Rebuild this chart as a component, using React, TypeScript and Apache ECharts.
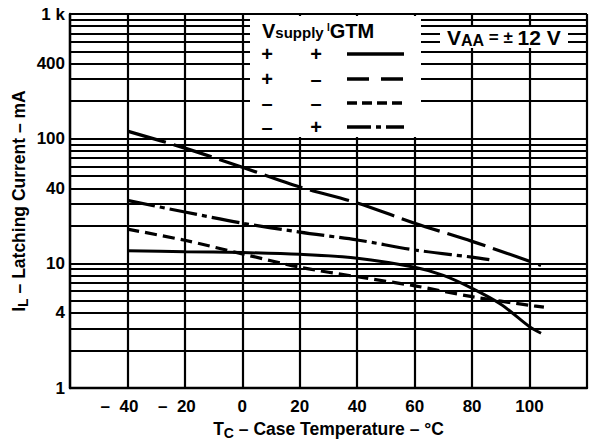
import React, { useEffect, useRef } from 'react';
import * as echarts from 'echarts';

// Case temperature (°C) vs latching current (mA)
const curvePlusPlus: [number, number][] = [[-40, 12.6], [-20, 12.4], [0, 12.2], [20, 11.8], [40, 11.0], [60, 9.3], [70, 8.0], [80, 6.3], [90, 4.7], [100, 3.1], [104, 2.75]];
const curvePlusMinus: [number, number][] = [[-40, 115], [-20, 84], [0, 59], [20, 41], [40, 30.5], [60, 21], [80, 15], [100, 10.4], [104, 9.6]];
const curveMinusMinus: [number, number][] = [[-40, 18.8], [-20, 15.3], [0, 11.9], [20, 9.3], [40, 7.8], [60, 6.6], [80, 5.4], [100, 4.6], [105, 4.45]];
const curveMinusPlus: [number, number][] = [[-40, 32], [-20, 25.8], [0, 21], [20, 17.8], [40, 15.4], [60, 12.8], [80, 11.2], [86, 10.7]];

const yGridValues = [1, 2, 3, 4, 5, 6, 7, 8, 9, 10, 20, 30, 40, 50, 60, 70, 80, 90, 100, 200, 300, 400, 500, 600, 700, 800, 900, 1000];
const yTickValues = [1, 4, 10, 40, 100, 400, 1000];
const yTickLabels = ['1', '4', '10', '40', '100', '400', '1 k'];
const xTickValues = [-40, -20, 0, 20, 40, 60, 80, 100];

const legendSupply = ['+', '+', '–', '–'];
const legendIgtm = ['+', '–', '–', '+'];

const FONT = '"Liberation Sans", Arial, Helvetica, sans-serif';

export default function App() {
  const ref = useRef<HTMLDivElement>(null);
  useEffect(() => {
    if (!ref.current) return;
    const chart = echarts.init(ref.current, null, { renderer: 'svg' });

    const lineW = 2.2;
    const markData = yGridValues.map((v) => {
      const idx = yTickValues.indexOf(v);
      return {
        yAxis: v,
        label: idx >= 0
          ? { show: true, position: 'start', distance: 5, formatter: yTickLabels[idx], color: '#000', fontSize: 17, fontWeight: 'bold', fontFamily: FONT }
          : { show: false },
      };
    });

    const base = {
      type: 'line',
      showSymbol: false,
      symbol: 'none',
      smooth: 0.3,
      silent: true,
      z: 5,
    };

    const rowY = [54, 79, 103, 127];
    const dashes: any[] = [null, [22, 12], [10, 5], [24, 5, 5, 5]];

    const graphic: any[] = [
      { type: 'rect', z: 100, shape: { x: 250, y: 16, width: 171, height: 121 }, style: { fill: '#fff' } },
      {
        type: 'text', z: 101, x: 262, y: 31,
        style: {
          text: '{v|V}{s|supply} {i|I}{v|GTM}',
          align: 'left',
          verticalAlign: 'middle',
          fill: '#000',
          rich: {
            v: { fontSize: 20, fontWeight: 'bold', fontFamily: FONT, lineHeight: 18, fill: '#000' },
            s: { fontSize: 15, fontWeight: 'bold', fontFamily: FONT, lineHeight: 12, verticalAlign: 'bottom', fill: '#000' },
            i: { fontSize: 10, fontWeight: 'bold', fontFamily: FONT, lineHeight: 10, verticalAlign: 'top', fill: '#000' },
          },
        },
      },
      { type: 'rect', z: 100, shape: { x: 440, y: 27, width: 128, height: 21 }, style: { fill: '#fff' } },
      {
        type: 'text', z: 101, x: 447, y: 37,
        style: {
          text: '{v|V}{s|AA}{m| = ± }{v|12 V}',
          align: 'left',
          verticalAlign: 'middle',
          fill: '#000',
          rich: {
            v: { fontSize: 21, fontWeight: 'bold', fontFamily: FONT, lineHeight: 22, fill: '#000' },
            s: { fontSize: 16, fontWeight: 'bold', fontFamily: FONT, lineHeight: 14, verticalAlign: 'bottom', fill: '#000' },
            m: { fontSize: 17, fontWeight: 'bold', fontFamily: FONT, lineHeight: 22, fill: '#000' },
          },
        },
      },
    ];
    rowY.forEach((y, i) => {
      graphic.push({ type: 'text', z: 101, x: 267, y, style: { text: legendSupply[i], align: 'center', verticalAlign: 'middle', fontSize: 20, fontWeight: 'bold', fontFamily: FONT, fill: '#000' } });
      graphic.push({ type: 'text', z: 101, x: 316, y, style: { text: legendIgtm[i], align: 'center', verticalAlign: 'middle', fontSize: 20, fontWeight: 'bold', fontFamily: FONT, fill: '#000' } });
      graphic.push({ type: 'line', z: 101, shape: { x1: 347, y1: y, x2: 404, y2: y }, style: { stroke: '#000', lineWidth: 3.5, lineDash: dashes[i] || undefined } });
    });

    const option: any = {
      animation: false,
      backgroundColor: '#fff',
      grid: { left: 70, top: 14, width: 531, height: 374 },
      xAxis: {
        type: 'value', min: -60, max: 120, interval: 20,
        axisLine: { show: true, onZero: false, lineStyle: { color: '#000', width: 2.4 } },
        axisTick: { show: false },
        splitLine: { show: true, lineStyle: { color: '#000', width: 2.2 } },
        axisLabel: {
          margin: 10,
          color: '#000', fontSize: 17, fontWeight: 'bold', fontFamily: FONT,
          formatter: (v: number) => {
            if (xTickValues.indexOf(v) < 0) return '';
            return v < 0 ? '{n|–  ' + Math.abs(v) + '}' : String(v);
          },
          rich: { n: { color: '#000', fontSize: 17, fontWeight: 'bold', fontFamily: FONT, padding: [0, 16, 0, 0] } },
        },
        name: '{t|T}{s|C}{t| – Case Temperature – °C}',
        nameLocation: 'middle',
        nameGap: 30,
        nameTextStyle: {
          rich: {
            t: { fontSize: 17.5, fontWeight: 'bold', fontFamily: FONT, color: '#000', lineHeight: 22 },
            s: { fontSize: 14, fontWeight: 'bold', fontFamily: FONT, color: '#000', lineHeight: 14, verticalAlign: 'bottom' },
          },
        },
      },
      yAxis: {
        type: 'log', logBase: 10, min: 1, max: 1000,
        axisLine: { show: true, onZero: false, lineStyle: { color: '#000', width: 2.4 } },
        axisTick: { show: false },
        axisLabel: { show: false },
        splitLine: { show: false },
        name: '{t|I}{s|L}{t| – Latching Current – mA}',
        nameLocation: 'middle',
        nameRotate: 90,
        nameGap: 40,
        nameTextStyle: {
          rich: {
            t: { fontSize: 17.5, fontWeight: 'bold', fontFamily: FONT, color: '#000', lineHeight: 22 },
            s: { fontSize: 14, fontWeight: 'bold', fontFamily: FONT, color: '#000', lineHeight: 14, verticalAlign: 'bottom' },
          },
        },
      },
      series: [
        {
          ...base, name: '+ +', data: curvePlusPlus,
          lineStyle: { color: '#000', width: 3, type: 'solid' },
          markLine: {
            silent: true, symbol: ['none', 'none'], animation: false,
            lineStyle: { color: '#000', width: lineW, type: 'solid' },
            emphasis: { disabled: true },
            data: markData,
          },
        },
        { ...base, name: '+ –', data: curvePlusMinus, lineStyle: { color: '#000', width: 3.2, type: [40, 8] } },
        { ...base, name: '– –', data: curveMinusMinus, lineStyle: { color: '#000', width: 3.2, type: [12, 6] } },
        { ...base, name: '– +', data: curveMinusPlus, lineStyle: { color: '#000', width: 3.2, type: [28, 5, 5, 5] } },
      ],
      graphic,
    };
    chart.setOption(option);
    return () => chart.dispose();
  }, []);
  return <div ref={ref} style={{ position: 'absolute', left: 0, top: 0, width: 590, height: 445 }} />;
}
